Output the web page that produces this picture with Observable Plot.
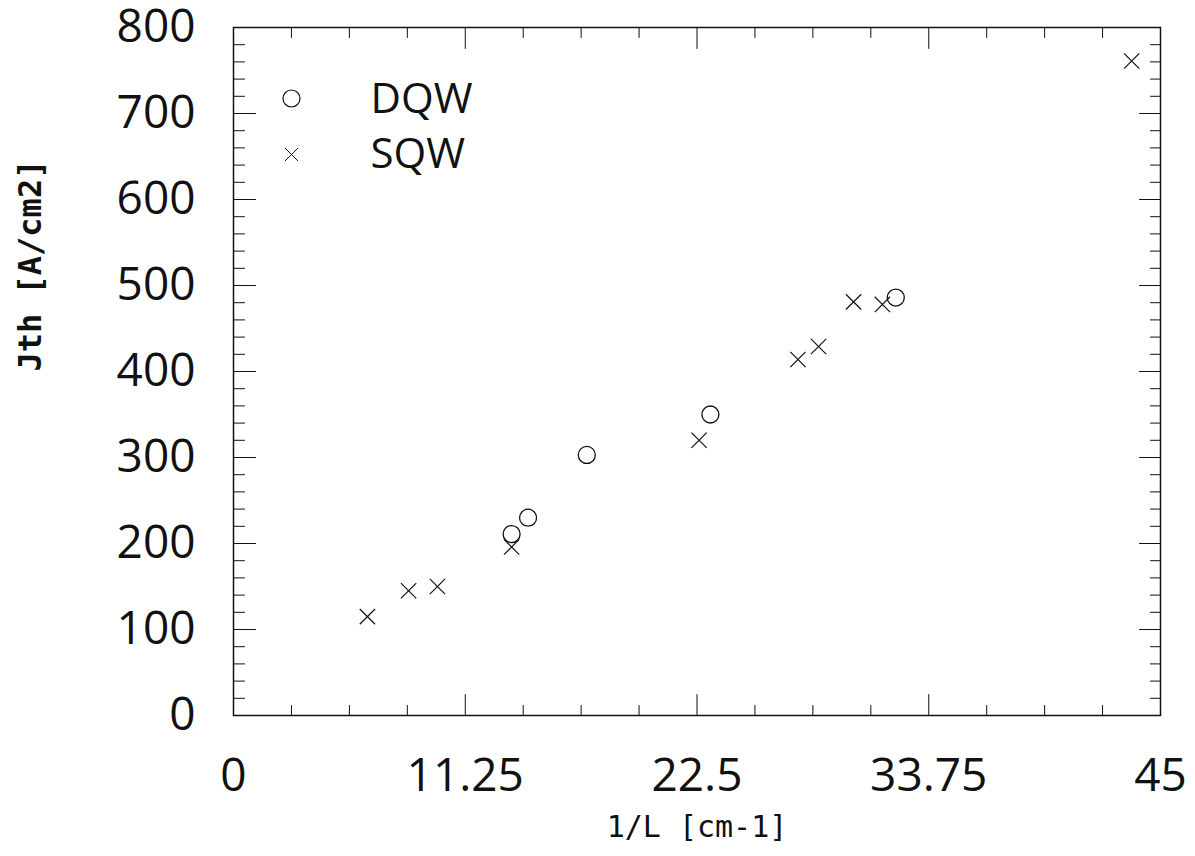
<!DOCTYPE html>
<html>
<head>
<meta charset="utf-8">
<script src="https://cdn.jsdelivr.net/npm/d3@7"></script>
<script src="https://cdn.jsdelivr.net/npm/@observablehq/plot@0.6"></script>
<style>
  html, body { margin: 0; padding: 0; background: #fff; }
  #chart svg { display: block; }
</style>
</head>
<body>
<div id="chart"></div>
<script>
// ---- data ----
const seriesNames = ["DQW", "SQW"];
const dqwX = [13.5, 14.3, 17.15, 23.15, 32.15];
const dqwY = [211, 230, 303, 350, 486];
const sqwX = [6.5, 8.5, 9.9, 13.5, 22.6, 27.4, 28.4, 30.1, 31.5, 43.6];
const sqwY = [115, 145, 150, 196, 320, 414, 429, 481, 478, 761];

const xTickLabels = [0, 11.25, 22.5, 33.75, 45];
const yTickLabels = [0, 100, 200, 300, 400, 500, 600, 700, 800];
const xTitle = "1/L [cm-1]";
const yTitle = "Jth [A/cm2]";

// ---- tables built from the arrays ----
const dqw = dqwX.map((x, i) => ({x, y: dqwY[i]}));
const sqw = sqwX.map((x, i) => ({x, y: sqwY[i]}));
const xMinor = d3.range(0, 45.0001, 11.25 / 4).filter(v => !xTickLabels.some(t => Math.abs(t - v) < 1e-6));
const yMinor = d3.range(0, 800.0001, 20).filter(v => v % 100 !== 0);

const line = {draw(ctx, l) { ctx.moveTo(0, 0); ctx.lineTo(0, -l); }};
const tickFont = "'Open Sans', 'Noto Sans', sans-serif";
const monoFont = "'DejaVu Sans Mono', monospace";

function ticks(data, ch, anchor, rotate, len) {
  const o = {frameAnchor: anchor, rotate, length: len, anchor: "start", shape: line, stroke: "#111", strokeWidth: 1};
  o[ch] = d => d;
  return Plot.vector(data, o);
}

const chart = Plot.plot({
  width: 1195,
  height: 856,
  marginLeft: 233,
  marginRight: 35,
  marginTop: 27,
  marginBottom: 141,
  style: {background: "#fff", color: "#111"},
  x: {domain: [0, 45]},
  y: {domain: [0, 800]},
  marks: [
    Plot.frame({stroke: "#111", strokeWidth: 1.5}),
    // inward ticks on all four sides
    ticks(xTickLabels, "x", "bottom", 0, 21),
    ticks(xMinor, "x", "bottom", 0, 10),
    ticks(xTickLabels, "x", "top", 180, 21),
    ticks(xMinor, "x", "top", 180, 10),
    ticks(yTickLabels, "y", "left", 90, 22),
    ticks(yMinor, "y", "left", 90, 11),
    ticks(yTickLabels, "y", "right", -90, 21),
    ticks(yMinor, "y", "right", -90, 10),
    Plot.axisX({ticks: xTickLabels, tickSize: 0, tickPadding: 43, fontSize: 46, fontFamily: tickFont, tickFormat: d => String(d), label: null}),
    Plot.axisY({ticks: yTickLabels, tickSize: 0, tickPadding: 38, fontSize: 46, fontFamily: tickFont, tickFormat: d => String(d), label: null}),
    // axis titles
    Plot.text([xTitle], {text: d => d, frameAnchor: "bottom", dy: 112, fontSize: 30, fontFamily: monoFont, lineAnchor: "middle", fill: "#111"}),
    Plot.text([yTitle], {text: d => d, frameAnchor: "left", dx: -203, rotate: -90, fontSize: 32, fontWeight: "bold", fontFamily: monoFont, lineAnchor: "middle", fill: "#111"}),
    // data
    Plot.dot(dqw, {x: "x", y: "y", symbol: "circle", r: 8.5, stroke: "#111", strokeWidth: 1.3, fill: "none"}),
    Plot.dot(sqw, {x: "x", y: "y", symbol: "times", r: 7, stroke: "#111", strokeWidth: 1.2}),
    // legend
    Plot.dot([seriesNames[0]], {frameAnchor: "top-left", dx: 58, dy: 71, symbol: "circle", r: 8.5, stroke: "#111", strokeWidth: 1.2, fill: "none"}),
    Plot.dot([seriesNames[1]], {frameAnchor: "top-left", dx: 58, dy: 127, symbol: "times", r: 6, stroke: "#111", strokeWidth: 1}),
    Plot.text([seriesNames[0]], {text: d => d, frameAnchor: "top-left", dx: 137, dy: 72, textAnchor: "start", lineAnchor: "middle", fontSize: 42, fontFamily: tickFont, fill: "#111"}),
    Plot.text([seriesNames[1]], {text: d => d, frameAnchor: "top-left", dx: 137, dy: 127, textAnchor: "start", lineAnchor: "middle", fontSize: 42, fontFamily: tickFont, fill: "#111"})
  ]
});
document.getElementById("chart").appendChild(chart);
</script>
</body>
</html>
